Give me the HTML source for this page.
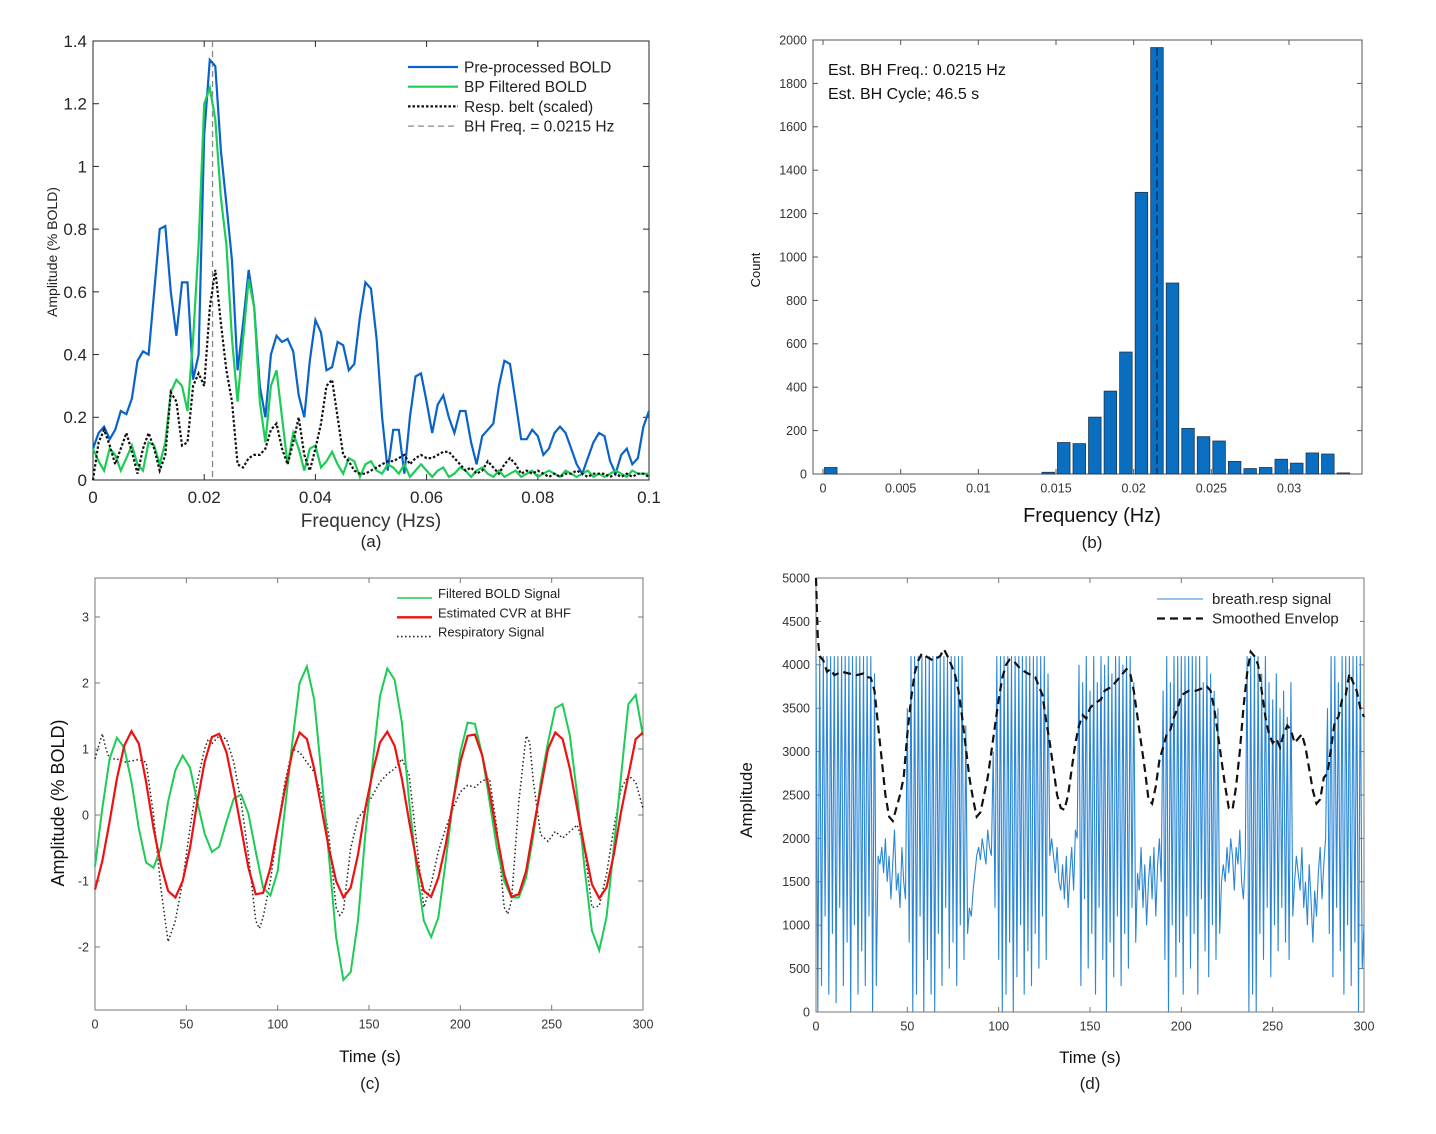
<!DOCTYPE html>
<html><head><meta charset="utf-8"><style>
body{margin:0;background:#fff}
svg{display:block;font-family:"Liberation Sans",sans-serif}
</style></head><body>
<svg id="fig" width="1436" height="1134" viewBox="0 0 1436 1134" xmlns="http://www.w3.org/2000/svg"></svg>
<script>
// ---------- Panel A data ----------
const aFreqStep = 0.001;
const aBlue = [0.10,0.15,0.17,0.13,0.16,0.22,0.21,0.26,0.38,0.41,0.40,0.60,0.80,0.81,0.60,0.46,0.63,0.63,0.32,0.40,1.10,1.34,1.32,1.05,0.88,0.70,0.35,0.50,0.67,0.55,0.30,0.20,0.40,0.46,0.44,0.45,0.41,0.27,0.20,0.38,0.51,0.47,0.35,0.36,0.44,0.43,0.35,0.37,0.52,0.63,0.61,0.45,0.20,0.03,0.16,0.16,0.02,0.20,0.33,0.34,0.25,0.15,0.24,0.27,0.20,0.15,0.22,0.22,0.12,0.05,0.14,0.16,0.18,0.30,0.38,0.37,0.25,0.13,0.13,0.16,0.14,0.08,0.10,0.15,0.17,0.15,0.10,0.05,0.02,0.07,0.12,0.15,0.14,0.06,0.02,0.08,0.10,0.05,0.07,0.17,0.22];
const aGreen = [0.10,0.06,0.03,0.10,0.08,0.03,0.07,0.11,0.05,0.03,0.12,0.11,0.05,0.12,0.28,0.32,0.30,0.22,0.45,0.75,1.20,1.25,1.15,0.90,0.75,0.45,0.25,0.45,0.64,0.55,0.25,0.12,0.30,0.35,0.20,0.05,0.15,0.10,0.03,0.10,0.11,0.04,0.06,0.09,0.05,0.02,0.07,0.06,0.01,0.05,0.06,0.03,0.02,0.05,0.04,0.02,0.05,0.01,0.03,0.05,0.03,0.01,0.03,0.04,0.01,0.02,0.04,0.03,0.01,0.03,0.04,0.02,0.01,0.03,0.01,0.02,0.03,0.01,0.02,0.03,0.01,0.02,0.03,0.02,0.01,0.03,0.02,0.01,0.02,0.03,0.01,0.02,0.01,0.02,0.03,0.02,0.01,0.03,0.02,0.02,0.02];
const aResp = [0.00,0.12,0.16,0.11,0.05,0.10,0.15,0.09,0.02,0.10,0.15,0.10,0.03,0.08,0.28,0.25,0.11,0.12,0.30,0.34,0.30,0.55,0.67,0.50,0.35,0.25,0.05,0.04,0.07,0.08,0.08,0.10,0.16,0.18,0.10,0.05,0.12,0.20,0.08,0.03,0.10,0.18,0.30,0.32,0.20,0.08,0.06,0.03,0.02,0.02,0.03,0.04,0.05,0.06,0.06,0.07,0.08,0.05,0.07,0.08,0.07,0.07,0.08,0.09,0.09,0.07,0.05,0.03,0.04,0.02,0.03,0.06,0.04,0.02,0.05,0.07,0.05,0.02,0.03,0.02,0.03,0.02,0.01,0.02,0.01,0.02,0.02,0.03,0.02,0.01,0.02,0.02,0.02,0.01,0.02,0.01,0.02,0.01,0.02,0.02,0.01];
const aBhFreq = 0.0215;
const aXTicks = [0,0.02,0.04,0.06,0.08,0.1];
const aYTicks = [0,0.2,0.4,0.6,0.8,1,1.2,1.4];

// ---------- Panel B data ----------
const bBinStarts = [0,0.014,0.015,0.016,0.017,0.018,0.019,0.020,0.021,0.022,0.023,0.024,0.025,0.026,0.027,0.028,0.029,0.030,0.031,0.032,0.033];
const bCounts = [30,8,145,140,262,382,562,1298,1965,880,210,172,152,58,25,30,68,50,97,92,5];
const bBinWidth = 0.001;
const bXTicks = [0,0.005,0.01,0.015,0.02,0.025,0.03];
const bYTicks = [0,200,400,600,800,1000,1200,1400,1600,1800,2000];

// ---------- Panel C data ----------
const cTime = [0,4,8,12,16,20,24,28,32,36,40,44,48,52,56,60,64,68,72,76,80,84,88,92,96,100,104,108,112,116,120,124,128,132,136,140,144,148,152,156,160,164,168,172,176,180,184,188,192,196,200,204,208,212,216,220,224,228,232,236,240,244,248,252,256,260,264,268,272,276,280,284,288,292,296,300];
const cGreen = [-0.78,0.1,0.85,1.17,1.02,0.5,-0.2,-0.72,-0.8,-0.5,0.2,0.68,0.9,0.72,0.2,-0.28,-0.56,-0.48,-0.1,0.25,0.31,0.02,-0.55,-1.1,-1.22,-0.85,0.1,1.1,2.0,2.25,1.75,0.6,-0.6,-1.85,-2.5,-2.38,-1.6,-0.3,0.8,1.8,2.22,2.05,1.4,0.2,-0.8,-1.6,-1.85,-1.55,-0.7,0.2,0.95,1.4,1.38,0.9,0.2,-0.5,-1.0,-1.25,-1.25,-0.95,-0.3,0.5,1.1,1.62,1.68,1.2,0.3,-0.8,-1.75,-2.05,-1.55,-0.5,0.6,1.68,1.82,1.2];
const cRed = [-1.13,-0.7,-0.1,0.55,1.05,1.27,1.08,0.5,-0.2,-0.75,-1.15,-1.25,-1.0,-0.5,0.2,0.8,1.18,1.23,0.95,0.4,-0.2,-0.8,-1.2,-1.18,-0.8,-0.2,0.4,0.95,1.25,1.15,0.7,0.1,-0.5,-1.0,-1.25,-1.1,-0.6,0.1,0.65,1.1,1.26,1.05,0.55,-0.1,-0.7,-1.15,-1.24,-0.95,-0.45,0.2,0.8,1.2,1.22,0.9,0.35,-0.3,-0.9,-1.24,-1.2,-0.85,-0.2,0.4,1.0,1.25,1.15,0.7,0.1,-0.5,-1.05,-1.26,-1.1,-0.6,0.05,0.6,1.15,1.25];
const cRespTime = [0,2,4,6,8,12,16,20,24,28,32,36,40,44,48,52,56,60,62,64,68,72,76,80,84,88,90,92,96,100,104,108,112,116,120,124,128,132,134,136,140,144,148,152,156,160,164,168,172,176,180,184,188,192,196,200,204,208,212,216,220,224,226,228,232,236,238,240,244,248,252,256,260,264,268,272,276,280,284,288,292,296,300];
const cResp = [0.85,1.05,1.23,1.0,0.85,0.85,0.8,0.82,0.84,0.8,0.0,-1.1,-1.92,-1.6,-1.0,-0.2,0.5,1.0,1.15,1.08,1.2,1.15,0.8,0.2,-0.6,-1.6,-1.72,-1.55,-1.0,-0.2,0.5,1.0,0.95,0.8,0.65,0.3,-0.3,-1.4,-1.52,-1.45,-0.5,-0.05,0.1,0.3,0.5,0.62,0.7,0.85,0.6,-0.4,-1.4,-1.05,-0.55,-0.2,0.1,0.35,0.45,0.42,0.52,0.55,-0.2,-1.4,-1.5,-1.3,0.2,1.2,1.1,0.5,-0.3,-0.4,-0.25,-0.35,-0.25,-0.15,-0.5,-1.4,-1.38,-0.9,-0.2,0.4,0.6,0.5,0.1];
const cXTicks = [0,50,100,150,200,250,300];
const cYTicks = [-2,-1,0,1,2,3];

// ---------- Panel D data ----------
const dSignal = [4100,0,4100,300,4100,1100,4100,200,4100,900,4100,100,4100,1200,4100,300,4100,800,4100,0,4100,1000,4100,200,4100,700,4100,300,4100,1100,4100,0,3900,300,
1800,1700,1900,1600,2000,1500,1800,1300,1700,2100,1400,1600,1200,1900,1500,1300,
3500,800,4100,0,4100,200,4100,1100,4100,0,4100,600,4100,200,4100,0,4100,900,4100,300,4100,1200,4100,500,4100,800,4100,300,4100,1000,4100,600,3300,900,1200,
1100,1400,1600,1800,1900,1750,2000,1850,1700,2100,1900,1800,
3000,1200,4100,600,4100,0,4100,200,4100,800,4100,0,4100,400,4100,1000,4100,200,4100,700,4100,300,4100,900,4100,500,4100,1100,4100,600,3900,1800,
2000,1800,1600,1900,1500,1400,1700,1300,1800,1200,1600,1900,1400,2100,
2000,4000,300,3800,1300,4100,500,3700,900,4100,200,3800,1200,4100,600,4000,0,4100,800,3900,400,4100,1100,4100,300,4000,900,4100,500,4100,1200,3800,800,
1600,1400,1900,1200,1700,1000,1500,1800,1300,1900,1100,1700,2000,1500,
3700,600,4100,0,3800,1000,4100,400,4100,800,4100,200,4100,1100,4100,500,4100,900,4100,200,4100,1300,3800,700,4100,400,3900,1000,3700,600,3500,900,1500,
1700,1500,1900,1600,2000,1800,1400,1900,1700,2100,1500,1300,1800,
4100,0,4100,200,4100,0,4100,900,3900,600,4100,1200,3800,400,3600,1000,3900,700,3500,1200,3700,800,3400,600,3800,1100,1500,
1800,1600,1400,1900,1200,1500,1000,1700,1300,800,1400,1100,1600,1900,1300,1700,2000,
3500,900,4100,400,4100,1200,3800,700,4100,200,4100,1000,4100,300,4100,800,4100,0,4100,500,1000];
const dSignalStep = 1;
const dEnvT = [0,1,2,4,6,8,10,14,18,22,26,28,30,32,34,36,38,40,42,44,46,48,50,52,54,56,58,60,64,68,70,72,74,76,78,80,82,84,86,88,90,92,94,96,98,100,102,104,106,108,110,112,116,120,124,126,128,130,132,134,136,138,140,142,144,146,148,150,152,156,158,162,166,170,172,174,176,178,180,182,184,186,188,190,192,194,196,198,200,204,208,214,216,218,220,222,224,226,228,230,232,234,236,238,240,242,244,246,248,250,252,254,256,258,260,262,264,266,268,270,272,274,276,278,280,282,284,286,288,290,292,294,296,298,300];
const dEnvV = [5000,4300,4100,4050,3920,3950,3880,3920,3900,3880,3900,3860,3850,3700,3300,2900,2500,2250,2200,2350,2500,2700,3200,3600,3900,4050,4130,4100,4050,4100,4180,4100,4000,3900,3700,3400,3050,2700,2450,2250,2300,2500,2700,3000,3300,3600,3850,4000,4060,4050,4000,3950,3900,3860,3650,3350,3100,2800,2500,2350,2330,2500,2800,3100,3300,3420,3380,3500,3550,3600,3700,3750,3850,3950,3900,3700,3400,3100,2800,2450,2400,2600,2900,3050,3200,3250,3400,3500,3650,3700,3700,3750,3700,3500,3200,2900,2600,2350,2330,2600,3000,3500,3900,4150,4100,4000,3700,3400,3200,3100,3150,3050,3200,3300,3250,3100,3150,3200,3050,2800,2550,2400,2450,2700,2750,3050,3350,3400,3600,3650,3900,3800,3700,3500,3400];
const dXTicks = [0,50,100,150,200,250,300];
const dYTicks = [0,500,1000,1500,2000,2500,3000,3500,4000,4500,5000];

const NS = "http://www.w3.org/2000/svg";
const svg = document.getElementById('fig');
function mk(tag, attrs, parent){
  const e = document.createElementNS(NS, tag);
  for (const k in attrs) e.setAttribute(k, attrs[k]);
  (parent||svg).appendChild(e);
  return e;
}
function txt(str, x, y, size, anchor, color, parent, rot){
  const t = mk('text', {x:x, y:y, 'font-size':size, 'text-anchor':anchor||'middle', fill:color||'#262626'}, parent);
  if (rot) t.setAttribute('transform', 'rotate(-90 '+x+' '+y+')');
  t.textContent = str;
  return t;
}
function lin(d0,d1,r0,r1){ return v => r0 + (v-d0)*(r1-r0)/(d1-d0); }
function pathD(xs, ys, sx, sy){ return xs.map((x,i)=>(i?'L':'M')+sx(x).toFixed(1)+' '+sy(ys[i]).toFixed(1)).join(''); }

function axesBox(g, L,T,R,B, xTicks, yTicks, sx, sy, fs, fmtX, fmtY, color, tickLen, stroke){
  const box = mk('rect', {x:L,y:T,width:R-L,height:B-T,fill:'none',stroke:stroke||'#262626','stroke-width':1}, g);
  
  
  xTicks.forEach(v=>{
    const x = sx(v);
    mk('line',{x1:x,y1:B,x2:x,y2:B-tickLen,stroke:stroke||'#262626'},g);
    mk('line',{x1:x,y1:T,x2:x,y2:T+tickLen,stroke:stroke||'#262626'},g);
    const t = txt(fmtX(v), x, B+fs+6, fs, 'middle', color, g);
    
    
  });
  yTicks.forEach(v=>{
    const y = sy(v);
    mk('line',{x1:L,y1:y,x2:L+tickLen,y2:y,stroke:stroke||'#262626'},g);
    mk('line',{x1:R,y1:y,x2:R-tickLen,y2:y,stroke:stroke||'#262626'},g);
    const t = txt(fmtY(v), L-6, y+fs*0.35, fs, 'end', color, g);
    
    
  });
}

// ===== Panel A =====
(function(){
  const g = mk('g',{});
  
  
  const L=93,T=41,R=649,B=480;
  const sx = lin(0,0.1,L,R), sy = lin(0,1.4,B,T);
  axesBox(g,L,T,R,B,aXTicks,aYTicks,sx,sy,17,v=>String(v),v=>String(v),'#262626',6);
  const fx = aBlue.map((_,i)=>i*aFreqStep);
  const bh = mk('line',{x1:sx(aBhFreq),x2:sx(aBhFreq),y1:T,y2:B,stroke:'#888','stroke-width':1.3,'stroke-dasharray':'6 4'},g);
  
  
  const pb = mk('path',{d:pathD(fx,aBlue,sx,sy),fill:'none',stroke:'#0a63c9','stroke-width':2.2},g);
  
  
  const pg = mk('path',{d:pathD(fx,aGreen,sx,sy),fill:'none',stroke:'#1ccc55','stroke-width':2.2},g);
  
  
  const pr = mk('path',{d:pathD(fx,aResp,sx,sy),fill:'none',stroke:'#111','stroke-width':2.2,'stroke-dasharray':'2.5 2'},g);
  
  
  const leg = [['Pre-processed BOLD','#0a63c9',''],['BP Filtered BOLD','#1ccc55',''],['Resp. belt (scaled)','#111','2.5 2'],['BH Freq. = 0.0215 Hz','#888','6 4']];
  leg.forEach((l,i)=>{
    const y = 67+i*19.7;
    const ln = mk('line',{x1:408,x2:458,y1:y,y2:y,stroke:l[1],'stroke-width':i==3?1.3:2.2,'stroke-dasharray':l[2]},g);
    
    
    const t = txt(l[0],464,y+5.5,15.5,'start','#222',g);
    
    
  });
  const xl = txt('Frequency (Hzs)',371,527,19,'middle','#333',g);
  
  
  const yl = txt('Amplitude (% BOLD)',57,252,14,'middle','#222',g,true);
  
  
  const cap = txt('(a)',371,547,17,'middle','#222',g);
  
  
})();

// ===== Panel B =====
(function(){
  const g = mk('g',{});
  
  
  const L=813,T=40,R=1362,B=474;
  const sx = lin(0,0.03,823,1289), sy = lin(0,2000,B,T);
  axesBox(g,L,T,R,B,bXTicks,bYTicks,sx,sy,12.5,v=>String(v),v=>String(v),'#333',5,'#555');
  bBinStarts.forEach((s,i)=>{
    const x0 = sx(s)+1.5, x1 = sx(s+bBinWidth)-1.5;
    const r = mk('rect',{x:x0,y:sy(bCounts[i]),width:x1-x0,height:B-sy(bCounts[i]),fill:'#0a6fc0',stroke:'#1b3552','stroke-width':0.8},g);
    
    
  });
  const dl = mk('line',{x1:sx(aBhFreq),x2:sx(aBhFreq),y1:sy(1965),y2:B,stroke:'#0b2a4a','stroke-width':1.2,'stroke-dasharray':'8 4'},g);
  
  
  const t1 = txt('Est. BH Freq.: 0.0215 Hz',828,75,16,'start','#111',g);
  
  
  const t2 = txt('Est. BH Cycle; 46.5 s',828,99,16,'start','#111',g);
  
  
  const xl = txt('Frequency (Hz)',1092,522,20,'middle','#111',g);
  
  
  const yl = txt('Count',760,270,13,'middle','#111',g,true);
  
  
  const cap = txt('(b)',1092,548,17,'middle','#222',g);
  
  
})();

// ===== Panel C =====
(function(){
  const g = mk('g',{});
  
  
  const L=95,T=578,R=643,B=1010;
  const sx = lin(0,300,L,R), sy = lin(0,1,815,749);
  axesBox(g,L,T,R,B,cXTicks,cYTicks,sx,sy,12.5,v=>String(v),v=>String(v),'#333',5,'#777');
  const pr = mk('path',{d:pathD(cRespTime,cResp,sx,sy),fill:'none',stroke:'#222','stroke-width':1.5,'stroke-dasharray':'1.5 2.5'},g);
  
  
  const pg = mk('path',{d:pathD(cTime,cGreen,sx,sy),fill:'none',stroke:'#1ccc55','stroke-width':2},g);
  
  
  const pred = mk('path',{d:pathD(cTime,cRed,sx,sy),fill:'none',stroke:'#ee1111','stroke-width':2.2},g);
  
  
  const leg = [['Filtered BOLD Signal','#1ccc55',''],['Estimated CVR at BHF','#ee1111',''],['Respiratory Signal','#222','1.5 2.5']];
  leg.forEach((l,i)=>{
    const y = 598+i*19.3;
    const ln = mk('line',{x1:397,x2:432,y1:y,y2:y,stroke:l[1],'stroke-width':i==1?2.4:1.6,'stroke-dasharray':l[2]},g);
    
    
    const t = txt(l[0],438,y,13,'start','#222',g);
    
    
  });
  const xl = txt('Time (s)',370,1062,17,'middle','#111',g);
  
  
  const yl = txt('Amplitude (% BOLD)',64,803,18,'middle','#111',g,true);
  
  
  const cap = txt('(c)',370,1089,17,'middle','#222',g);
  
  
})();

// ===== Panel D =====
(function(){
  const g = mk('g',{});
  
  
  const L=816,T=578,R=1364,B=1012;
  const sx = lin(0,300,L,R), sy = lin(0,5000,B,T);
  axesBox(g,L,T,R,B,dXTicks,dYTicks,sx,sy,12.5,v=>String(v),v=>String(v),'#333',5,'#777');
  const st = dSignal.map((_,i)=>i*dSignalStep);
  const ps = mk('path',{d:pathD(st,dSignal,sx,sy),fill:'none',stroke:'#2b86d6','stroke-width':1.1},g);
  
  
  const pe = mk('path',{d:pathD(dEnvT,dEnvV,sx,sy),fill:'none',stroke:'#111','stroke-width':2.2,'stroke-dasharray':'8 5'},g);
  
  
  const lb = mk('rect',{x:1150,y:588,width:210,height:40,fill:'#fff'},g);
  
  
  const leg = [['breath.resp signal','#2b86d6','',1.1],['Smoothed Envelop','#111','8 5',2.2]];
  leg.forEach((l,i)=>{
    const y = 599+i*19.5;
    const ln = mk('line',{x1:1157,x2:1203,y1:y,y2:y,stroke:l[1],'stroke-width':l[3],'stroke-dasharray':l[2]},g);
    
    
    const t = txt(l[0],1212,y+5,15,'start','#222',g);
    
    
  });
  const xl = txt('Time (s)',1090,1063,17,'middle','#111',g);
  
  
  const yl = txt('Amplitude',752,800,17,'middle','#111',g,true);
  
  
  const cap = txt('(d)',1090,1089,17,'middle','#222',g);
  
  
})();
</script>
</body></html>
